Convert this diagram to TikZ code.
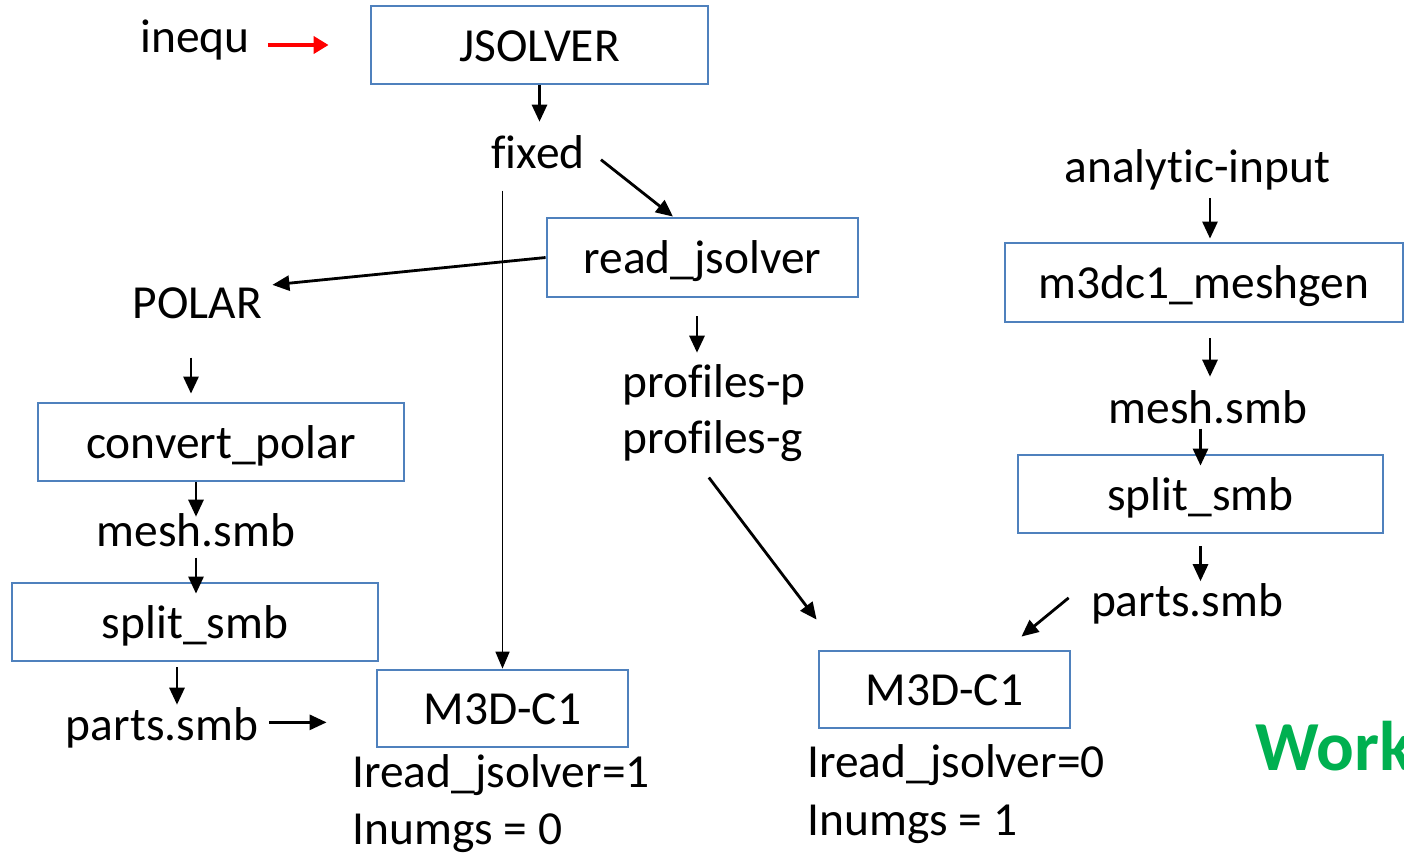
\documentclass[tikz,border=0pt]{standalone}
\usepackage{fontspec}
\setmainfont[Ligatures=NoCommon]{Carlito}
\usetikzlibrary{arrows.meta}
\definecolor{boxblue}{RGB}{79,129,189}
\definecolor{workgreen}{RGB}{0,176,80}

\begin{document}
\begin{tikzpicture}[
    lbl/.style={inner sep=0pt, font=\fontsize{27}{32}\selectfont},
    blockbox/.style={lbl, draw=boxblue, line width=1.6pt, minimum height=1.56cm, text height=0.74cm, text depth=0.1cm},
    flow/.style={line width=1.6pt, -{Triangle[length=0.34cm,width=0.3cm]}},
    thinflow/.style={line width=1pt, -{Triangle[length=0.34cm,width=0.28cm]}},
    redflow/.style={red, line width=2.8pt, -{Triangle[length=0.3cm,width=0.34cm]}}]
        \useasboundingbox (0,0) rectangle (28.08,-17.08);
        \clip (0,0) rectangle (28.08,-17.08);

        \node[blockbox, minimum width=6.74cm] (jsolver) at (10.79,-0.90) {JSOLVER};
        \node[lbl, anchor=base] (inequ) at (3.90,-1.04) {inequ};
        \node[lbl, anchor=base] (fixed) at (10.76,-3.36) {fixed};
        \node[blockbox, minimum width=6.22cm, minimum height=1.58cm] (readj) at (14.05,-5.15) {read\_jsolver};

        \node[lbl, anchor=base] (polar) at (3.95,-6.36) {POLAR};
        \node[blockbox, minimum width=7.32cm] (convp) at (4.42,-8.84) {convert\_polar};
        \node[lbl, anchor=base] (meshL) at (3.92,-10.92) {mesh.smb};
        \node[blockbox, minimum width=7.32cm] (splitL) at (3.90,-12.44) {split\_smb};
        \node[lbl, anchor=base] (partsL) at (3.24,-14.80) {parts.smb};
        \node[blockbox, minimum width=5.02cm, minimum height=1.54cm] (m3dL) at (10.05,-14.17) {M3D-C1};
        \node[lbl, anchor=base west] (readflagL) at (7.04,-15.74) {Iread\_jsolver=1};
        \node[lbl, anchor=base west] (numflagL) at (7.04,-16.88) {Inumgs = 0};

        \node[lbl, anchor=base west] (profP) at (12.44,-7.94) {profiles-p};
        \node[lbl, anchor=base west] (profG) at (12.44,-9.06) {profiles-g};

        \node[lbl, anchor=base] (analytic) at (23.95,-3.64) {analytic-input};
        \node[blockbox, minimum width=7.96cm, minimum height=1.58cm] (meshgen) at (24.08,-5.65) {m3dc1\_meshgen};
        \node[lbl, anchor=base] (meshR) at (24.16,-8.46) {mesh.smb};
        \node[blockbox, minimum width=7.30cm] (splitR) at (24.01,-9.88) {split\_smb};
        \node[lbl, anchor=base] (partsR) at (23.74,-12.33) {parts.smb};
        \node[blockbox, minimum width=5.02cm, minimum height=1.54cm] (m3dR) at (18.89,-13.79) {M3D-C1};
        \node[lbl, anchor=base west] (readflagR) at (16.14,-15.54) {Iread\_jsolver=0};
        \node[lbl, anchor=base west] (numflagR) at (16.14,-16.70) {Inumgs = 1};

        \node[lbl, anchor=base west, font=\bfseries\fontsize{40}{48}\selectfont, text=workgreen] (work) at (25.10,-15.40) {Work};

        \draw[redflow, shorten <=0.36cm, shorten >=0.82cm] (inequ.east |- jsolver.west) -- (jsolver.west);
        \draw[flow, shorten >=0.26cm] (jsolver.south) -- (jsolver.south |- fixed.north);
        \draw[flow] ([xshift=0.32cm,yshift=-0.16cm]fixed.east) -- ([xshift=-0.59cm]readj.north);
        \draw[thinflow, shorten <=0.44cm] (fixed.south -| m3dL.north) -- (m3dL.north);
        \draw[flow] (readj.west) -- ([xshift=0.2cm,yshift=0.04cm]polar.north east);
        \draw[flow, shorten <=0.78cm, shorten >=0.16cm] ([xshift=-0.13cm]polar.south) -- ([xshift=-0.13cm]polar.south |- convp.north);
        \draw[flow] (convp.south -| meshL.north) -- ([yshift=-0.08cm]meshL.north);
        \draw[flow, shorten <=0.22cm] (meshL.south) -- ([yshift=-0.24cm]meshL.south |- splitL.north);
        \draw[flow, shorten <=0.1cm, shorten >=0.04cm] ([xshift=-0.36cm]splitL.south) -- ([xshift=-0.36cm]splitL.south |- partsL.north);
        \draw[flow, shorten <=0.22cm, shorten >=0.98cm] ([yshift=0.1cm]partsL.east) -- ([yshift=0.1cm]partsL.east -| m3dL.west);
        \draw[flow, shorten <=0.36cm, shorten >=0.22cm] ([xshift=-0.11cm]readj.south) -- ([xshift=-0.11cm]readj.south |- profP.north);
        \draw[flow] ([xshift=-0.08cm,yshift=-0.32cm]profG.south) -- ([xshift=-0.02cm,yshift=0.6cm]m3dR.north west);
        \draw[flow, shorten <=0.16cm, shorten >=0.06cm] ([xshift=0.25cm]analytic.south) -- ([xshift=0.25cm]analytic.south |- meshgen.north);
        \draw[flow, shorten <=0.3cm, shorten >=0.26cm] ([xshift=0.12cm]meshgen.south) -- ([xshift=0.12cm]meshgen.south |- meshR.north);
        \draw[flow, shorten <=0.1cm] (meshR.south -| splitR.north) -- ([yshift=-0.24cm]splitR.north);
        \draw[flow, shorten <=0.24cm, shorten >=0.04cm] (splitR.south) -- (splitR.south |- partsR.north);
        \draw[flow] ([xshift=-0.44cm,yshift=0.12cm]partsR.west) -- ([xshift=-1cm,yshift=0.26cm]m3dR.north east);
    \end{tikzpicture}
\end{document}
